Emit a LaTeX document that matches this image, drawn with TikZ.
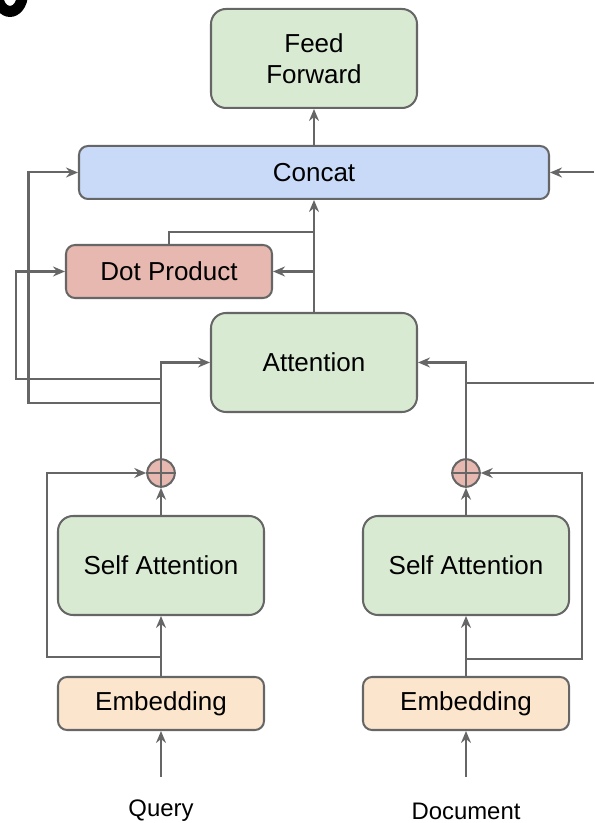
\documentclass[tikz,border=0pt]{standalone}
\usepackage{fontspec}
\setmainfont{Liberation Sans}
\usetikzlibrary{arrows.meta}
\definecolor{linegray}{HTML}{666666}
\definecolor{ffgreen}{HTML}{D9EAD3}
\definecolor{catblue}{HTML}{C9DAF8}
\definecolor{dotred}{HTML}{E6B8AF}
\definecolor{embpeach}{HTML}{FCE5CD}

\begin{document}
\begin{tikzpicture}[
  box/.style={draw=linegray, line width=1.15pt, rounded corners=0.18cm, minimum width=4.12cm, minimum height=1.06cm, inner sep=0pt, align=center, font=\fontsize{14.8}{17.5}\selectfont},
  tallbox/.style={box, minimum height=1.98cm, rounded corners=0.3cm},
  sum/.style={circle, draw=linegray, line width=1.15pt, fill=dotred, minimum size=0.55cm, inner sep=0pt},
  wire/.style={draw=linegray, line width=1.15pt},
  arr/.style={wire, -{Stealth[length=0.24cm,width=0.2cm,inset=0.08cm]}},
  lbl/.style={font=\fontsize{13.6}{16}\selectfont}
]
\useasboundingbox (0,0) rectangle (11.88,16.46);

\fill[black, even odd rule] (0.2,16.58) ellipse [x radius=0.36cm, y radius=0.46cm]
  (0.2,16.58) ellipse [x radius=0.14cm, y radius=0.24cm];

\node[tallbox, fill=ffgreen] (ff) at (6.28,15.29) {Feed\\Forward};
\node[box, fill=catblue, minimum width=9.4cm] (concat) at (6.28,13.01) {Concat};
\node[box, fill=dotred] (dot) at (3.38,11.03) {Dot Product};
\node[tallbox, fill=ffgreen] (att) at (6.28,9.21) {Attention};

\node[sum] (qsum) at (3.22,7.0) {};
\node[sum] (dsum) at (9.32,7.0) {};
\node[tallbox, fill=ffgreen] (qself) at (3.22,5.15) {Self Attention};
\node[tallbox, fill=ffgreen] (dself) at (9.32,5.15) {Self Attention};
\node[box, fill=embpeach] (qemb) at (3.22,2.39) {Embedding};
\node[box, fill=embpeach] (demb) at (9.32,2.39) {Embedding};
\node[lbl] (query) at (3.22,0.24) {Query};
\node[lbl] (doc) at (9.32,0.24) {Document};

\draw[wire] (qsum.north) -- (qsum.south) (qsum.west) -- (qsum.east);
\draw[wire] (dsum.north) -- (dsum.south) (dsum.west) -- (dsum.east);

\coordinate (qtail) at (3.22,0.92);
\coordinate (dtail) at (9.32,0.92);
\draw[arr] (qtail) -- (qemb.south);
\draw[arr] (dtail) -- (demb.south);
\draw[arr] (qemb.north) -- (qself.south);
\draw[arr] (demb.north) -- (dself.south);
\draw[arr] (qself.north) -- (qsum.south);
\draw[arr] (dself.north) -- (dsum.south);

\coordinate (qres) at (0.94,3.32);
\coordinate (dres) at (11.64,3.28);
\draw[arr] (qemb.north |- qres) -- (qres) |- (qsum.west);
\draw[arr] (demb.north |- dres) -- (dres) |- (dsum.east);

\draw[arr] (qsum.north) |- (att.west);
\draw[arr] (dsum.north) |- (att.east);

\coordinate (qa) at (3.22,8.4);
\coordinate (qafar) at (0.57,8.4);
\coordinate (qb) at (3.22,8.88);
\coordinate (qbfar) at (0.32,8.88);
\draw[arr] (qa) -- (qafar) |- (concat.west);
\draw[arr] (qb) -- (qbfar) |- (dot.west);

\coordinate (dout) at (11.88,8.8);
\coordinate (din) at (11.88,13.01);
\draw[wire] (dsum.north |- dout) -- (dout);
\draw[arr] (din) -- (concat.east);

\draw[arr] (att.north) -- (concat.south);
\draw[arr] (att.north |- dot.east) -- (dot.east);
\coordinate (dotup) at (3.38,11.82);
\draw[wire] (dot.north) -- (dotup) -- (att.north |- dotup);

\draw[arr] (concat.north) -- (ff.south);
\end{tikzpicture}
\end{document}
